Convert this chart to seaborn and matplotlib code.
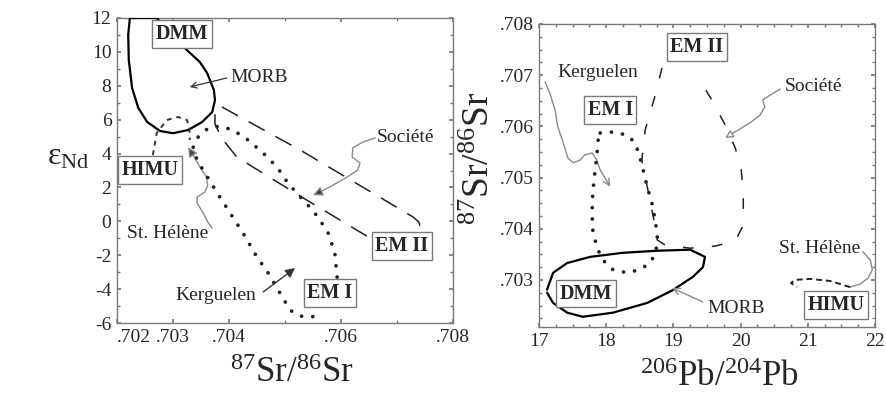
import matplotlib
matplotlib.use("Agg")
import matplotlib.pyplot as plt
import seaborn as sns
from matplotlib.ticker import FixedLocator, MultipleLocator

# ---------------- data: left panel (eps_Nd vs 87Sr/86Sr) ----------------
morb_sr = [.70223, .70271, .70295, .70325, .70348, .70361, .70373, .70375, .70370, .70352,
           .70327, .70300, .70277, .70254, .70238, .70227, .70221, .70220, .70223]
morb_nd = [12.0, 12.0, 11.1, 10.1, 9.4, 8.75, 7.75, 7.16, 6.45, 5.86,
           5.39, 5.2, 5.33, 5.86, 6.69, 7.87, 9.52, 11.0, 12.0]

sth_sr = [.70264, .70271, .70289, .70309, .70325, .70329, .70330]
sth_nd = [3.91, 5.21, 5.98, 6.16, 5.98, 5.5, 4.8]

kerg_sr = [.70593, .70589, .70577, .70559, .70541, .70521, .70504, .70486, .70461, .70434,
           .70407, .70384, .70363, .70345, .70336, .70343, .70357, .70379, .70402, .70425,
           .70450, .70470, .70491, .70509, .70527, .70545, .70566]
kerg_nd = [-3.29, -1.87, -0.69, 0.25, 0.96, 1.67, 2.32, 3.2, 4.03, 4.8,
           5.39, 5.62, 5.51, 4.98, 4.38, 3.62, 2.85, 1.67, 0.49, -0.69,
           -2.11, -3.05, -4.23, -5.24, -5.59, -5.65, -5.53]

soc_sr = [.70646, .70527, .70414, .70388, .70375, .70375, .70384, .70527, .70729, .70739, .70743]
soc_nd = [-0.87, 1.49, 3.79, 4.86, 5.74, 6.45, 6.81, 4.21, 0.25, -0.04, -0.51]

# leader lines (left)
soc_lead_sr = [.70661, .70639, .70621, .70620, .70634, .70630, .70611, .70586, .70563, .70550]
soc_lead_nd = [4.92, 4.68, 4.33, 3.79, 3.44, 3.03, 2.61, 2.14, 1.73, 1.55]
sth_lead_sr = [.70370, .70362, .70354, .70343, .70343, .70357, .70362, .70359, .70348, .70338, .70327]
sth_lead_nd = [-0.4, -0.04, 0.49, 1.08, 1.43, 1.73, 2.14, 2.67, 3.2, 3.79, 4.38]
kerg_lead_sr = [.70461, .70518]
kerg_lead_nd = [-4.17, -2.76]
morb_lead_sr = [.70396, .70330]
morb_lead_nd = [8.46, 7.93]

left_labels = ["MORB", "Société", "Kerguelen", "St. Hélène"]
left_label_sr = [.70402, .70664, .70377, .70291]
left_label_nd = [8.46, 4.92, -4.35, -0.69]
left_boxes = ["DMM", "HIMU", "EM II", "EM I"]
left_box_sr = [.70316, .70259, .70709, .70580]
left_box_nd = [11.06, 3.03, -1.46, -4.23]

left_xticks = [.702, .703, .704, .706, .708]
left_xticklabels = [".702", ".703", ".704", ".706", ".708"]
left_yticks = [12, 10, 8, 6, 4, 2, 0, -2, -4, -6]
left_yticklabels = ["12", "10", "8", "6", "4", "2", "0", "-2", "-4", "-6"]

# ---------------- data: right panel (87Sr/86Sr vs 206Pb/204Pb) ----------------
morb2_pb = [17.12, 17.21, 17.42, 17.76, 18.25, 18.76, 19.25, 19.47, 19.44, 19.29,
            18.99, 18.61, 18.10, 17.65, 17.42, 17.21, 17.12]
morb2_sr = [.70281, .70314, .70333, .70345, .70353, .70357, .70359, .70345, .70325, .70306,
            .70280, .70255, .70236, .70228, .70236, .70255, .70275]

kerg2_pb = [17.91, 18.10, 18.31, 18.43, 18.50, 18.55, 18.61, 18.68, 18.73, 18.76, 18.74, 18.65,
            18.50, 18.31, 18.10, 17.95, 17.86, 17.80, 17.79, 17.80, 17.83, 17.86, 17.88, 17.91]
kerg2_sr = [.70587, .70589, .70583, .70568, .70540, .70515, .70482, .70450, .70417, .70384, .70353, .70333,
            .70320, .70314, .70320, .70339, .70364, .70398, .70431, .70470, .70509, .70540, .70573, .70587]

soc2_pb = [18.83, 18.73, 18.58, 18.53, 18.62, 18.71, 18.76, 18.88, 19.25, 19.62, 19.92,
           20.04, 20.04, 20.01, 19.92, 19.77, 19.57, 19.35]
soc2_sr = [.70714, .70661, .70593, .70534, .70476, .70417, .70378, .70368, .70362, .70366, .70376,
           .70407, .70466, .70515, .70558, .70603, .70652, .70700]

sth2_pb = [21.63, 21.33, 21.03, 20.81, 20.75, 20.84]
sth2_sr = [.70286, .70298, .70302, .70300, .70294, .70286]

kerg2_lead_pb = [17.09, 17.16, 17.24, 17.28, 17.36, 17.43, 17.51, 17.61, 17.68, 17.79, 17.86, 17.91, 18.06]
kerg2_lead_sr = [.70687, .70665, .70632, .70599, .70568, .70538, .70529, .70534, .70544, .70548, .70534, .70515, .70482]
soc2_lead_pb = [20.59, 20.44, 20.33, 20.36, 20.29, 20.14, 19.89, 19.77]
soc2_lead_sr = [.70673, .70661, .70652, .70638, .70622, .70607, .70587, .70577]
morb2_lead_pb = [19.44, 18.98]
morb2_lead_sr = [.70257, .70284]
sth2_lead_pb = [21.82, 21.93, 21.96, 21.90, 21.78, 21.63]
sth2_lead_sr = [.70355, .70339, .70320, .70304, .70292, .70286]

right_labels = ["Kerguelen", "Société", "MORB", "St. Hélène"]
right_label_pb = [17.88, 20.66, 19.50, 21.17]
right_label_sr = [.70706, .70677, .70245, .70362]
right_label_ha = ["center", "left", "left", "center"]
right_boxes = ["EM II", "EM I", "DMM", "HIMU"]
right_box_pb = [19.35, 18.06, 17.70, 21.42]
right_box_sr = [.70755, .70632, .70273, .70251]

right_xticks = [17, 18, 19, 20, 21, 22]
right_xticklabels = ["17", "18", "19", "20", "21", "22"]
right_yticks = [.703, .704, .705, .706, .707, .708]
right_yticklabels = [".703", ".704", ".705", ".706", ".707", ".708"]

# ---------------- style ----------------
sns.set_theme(style="ticks")
plt.rcParams["font.family"] = ["Liberation Serif", "DejaVu Serif"]
plt.rcParams["mathtext.fontset"] = "custom"
plt.rcParams["mathtext.rm"] = "Liberation Serif"
plt.rcParams["mathtext.it"] = "Liberation Serif:italic"
plt.rcParams["axes.unicode_minus"] = False

FRAME = "#7a7a7a"
LEAD = "#8a8a8a"

fig = plt.figure(figsize=(8.86, 3.93), dpi=100)
axL = fig.add_axes([117 / 886, 70 / 393, 336 / 886, 305 / 393])
axR = fig.add_axes([539 / 886, 66 / 393, 336 / 886, 303 / 393])


def path(ax, x, y, **kw):
    sns.lineplot(x=x, y=y, sort=False, estimator=None, ax=ax, legend=False, **kw)


def lead(ax, x, y, color=LEAD, style="-|>", fc=None, lw=1.0, ms=14):
    if len(x) > 2:
        path(ax, x[:-1], y[:-1], color=color, linewidth=lw)
    if style is None:
        return
    props = dict(arrowstyle=style, color=color, lw=lw, shrinkA=0, shrinkB=0, mutation_scale=ms)
    if fc is not None:
        props["fc"] = fc
    ax.annotate("", xy=(x[-1], y[-1]), xytext=(x[-2], y[-2]), arrowprops=props)


def boxlabel(ax, x, y, s):
    ax.text(x, y, s, ha="center", va="center", fontsize=14.5, fontweight="bold", zorder=6,
            bbox=dict(boxstyle="square,pad=0.18", fc="white", ec=FRAME, lw=1.0))


def frame(ax):
    for sp in ax.spines.values():
        sp.set_color(FRAME)
        sp.set_linewidth(1.0)
        sp.set_visible(True)
    ax.tick_params(which="both", direction="in", color=FRAME, top=True, right=True,
                   labelsize=14, pad=4)
    ax.tick_params(which="major", length=3)
    ax.tick_params(which="minor", length=2)
    ax.grid(False)
    ax.set_facecolor("white")


# ---------------- left panel ----------------
DOT = (0, (0.01, 3.0))
path(axL, morb_sr, morb_nd, color="black", linewidth=1.6, zorder=3)
path(axL, sth_sr, sth_nd, color="#333333", linewidth=1.4, linestyle=(0, (2.5, 2.5)), zorder=3)
path(axL, kerg_sr, kerg_nd, color="#222222", linewidth=2.7, linestyle=DOT,
     dash_capstyle="round", zorder=3)
path(axL, soc_sr, soc_nd, color="#222222", linewidth=1.1, linestyle=(0, (12, 8)), zorder=3)

lead(axL, soc_lead_sr, soc_lead_nd, style="-|>", fc="#444444")
lead(axL, sth_lead_sr, sth_lead_nd, style="-|>", fc="#444444")
lead(axL, kerg_lead_sr, kerg_lead_nd, color="#333333", style="-|>", fc="#333333")
lead(axL, morb_lead_sr, morb_lead_nd, color="#333333", style="->", lw=0.9, ms=10)

for s, x, y in zip(left_labels, left_label_sr, left_label_nd):
    ha = "left" if s in ("MORB", "Société") else "center"
    axL.text(x, y, s, ha=ha, va="center", fontsize=14, zorder=5)
for s, x, y in zip(left_boxes, left_box_sr, left_box_nd):
    boxlabel(axL, x, y, s)

axL.set_xlim(.702, .708)
axL.set_ylim(-6, 12)
axL.xaxis.set_major_locator(FixedLocator(left_xticks))
axL.set_xticklabels(left_xticklabels)
axL.xaxis.set_minor_locator(MultipleLocator(0.001))
axL.yaxis.set_major_locator(FixedLocator(left_yticks))
axL.set_yticklabels(left_yticklabels)
axL.yaxis.set_minor_locator(MultipleLocator(1))
frame(axL)
axL.get_xticklabels()[0].set_ha("left")
axL.set_xlabel("$^{87}$Sr/$^{86}$Sr", fontsize=25)
axL.xaxis.set_label_coords(0.52, -0.165)
axL.xaxis.label.set_va("center")
axL.set_ylabel("ε$_{\\mathrm{Nd}}$", fontsize=23, rotation=0)
axL.yaxis.set_label_coords(-0.146, 0.544)
axL.yaxis.label.set_va("center")
axL.yaxis.label.set_ha("center")

# ---------------- right panel ----------------
path(axR, morb2_pb, morb2_sr, color="black", linewidth=1.6, zorder=3)
path(axR, kerg2_pb, kerg2_sr, color="#222222", linewidth=2.7, linestyle=DOT,
     dash_capstyle="round", zorder=3)
path(axR, soc2_pb, soc2_sr, color="#222222", linewidth=1.1, linestyle=(0, (7, 12)), zorder=3)
path(axR, sth2_pb, sth2_sr, color="#222222", linewidth=1.4, linestyle=(0, (3, 2)), zorder=3)

lead(axR, kerg2_lead_pb, kerg2_lead_sr, style="->", ms=12)
lead(axR, soc2_lead_pb, soc2_lead_sr, style="-|>", fc="white", ms=12)
lead(axR, morb2_lead_pb, morb2_lead_sr, style="->", ms=12)
path(axR, sth2_lead_pb, sth2_lead_sr, color=LEAD, linewidth=1.0)

for s, x, y, ha in zip(right_labels, right_label_pb, right_label_sr, right_label_ha):
    axR.text(x, y, s, ha=ha, va="center", fontsize=14, zorder=5)
for s, x, y in zip(right_boxes, right_box_pb, right_box_sr):
    boxlabel(axR, x, y, s)

axR.set_xlim(17, 22)
axR.set_ylim(.70208, .708)
axR.xaxis.set_major_locator(FixedLocator(right_xticks))
axR.set_xticklabels(right_xticklabels)
axR.xaxis.set_minor_locator(MultipleLocator(0.25))
axR.yaxis.set_major_locator(FixedLocator(right_yticks))
axR.set_yticklabels(right_yticklabels)
axR.yaxis.set_minor_locator(MultipleLocator(0.00025))
frame(axR)
axR.set_xlabel("$^{206}$Pb/$^{204}$Pb", fontsize=25)
axR.xaxis.set_label_coords(0.536, -0.168)
axR.xaxis.label.set_va("center")
axR.set_ylabel("$^{87}$Sr/$^{86}$Sr", fontsize=27)
axR.yaxis.set_label_coords(-0.176, 0.558)
axR.yaxis.label.set_va("center")

fig.savefig("out.png", dpi=100, facecolor="white")
